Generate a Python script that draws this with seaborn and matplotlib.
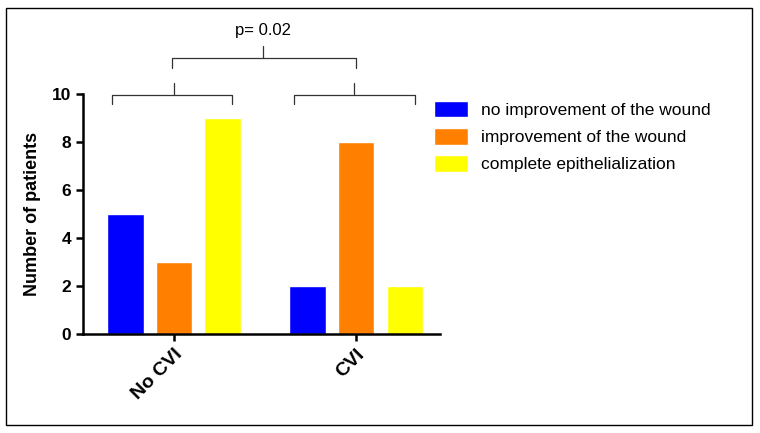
import pandas as pd
import seaborn as sns
import matplotlib.pyplot as plt
from matplotlib.patches import Rectangle

groups = ['No CVI', 'CVI']
outcomes = ['no improvement of the wound', 'improvement of the wound', 'complete epithelialization']
no_improvement = [5, 2]
improvement = [3, 8]
epithelialization = [9, 2]
colors = ['#0000FF', '#FF8000', '#FFFF00']

df = pd.DataFrame({
    'group': groups * 3,
    'outcome': [o for o in outcomes for _ in groups],
    'patients': no_improvement + improvement + epithelialization,
})

sns.set_style('ticks')
plt.rcParams['font.family'] = ['Liberation Sans', 'DejaVu Sans']
plt.rcParams['text.color'] = 'black'
plt.rcParams['axes.labelcolor'] = 'black'
plt.rcParams['xtick.color'] = 'black'
plt.rcParams['ytick.color'] = 'black'

fig = plt.figure(figsize=(7.6, 4.33), dpi=100)
ax = fig.add_axes([83 / 760, 99 / 433, 357 / 760, 240 / 433])

sns.barplot(data=df, x='group', y='patients', hue='outcome', order=groups,
            hue_order=outcomes, palette=colors, width=0.8, gap=0.25,
            saturation=1, ax=ax, legend=True)

ax.set_xlim(-0.5, 1.46)
ax.set_ylim(0, 10)
ax.set_yticks(range(0, 11, 2))
ax.set_xlabel('')
ax.set_ylabel('Number of patients', fontsize=13, fontweight='bold', labelpad=8)
for s in ['top', 'right']:
    ax.spines[s].set_visible(False)
for s in ['left', 'bottom']:
    ax.spines[s].set_linewidth(1.8)
    ax.spines[s].set_color('black')
ax.tick_params(axis='both', width=1.8, length=5, color='black', labelcolor='black')
for lab in ax.get_yticklabels():
    lab.set_fontweight('bold')
    lab.set_fontsize(12.5)
ax.set_xticks(range(len(groups)))
ax.set_xticklabels(groups, rotation=45, ha='right', rotation_mode='anchor',
                   fontsize=14, fontweight='bold')

# brackets above the groups
def bracket(x0, x1, xm, y, drop, rise):
    kw = dict(color='#333333', lw=0.9, clip_on=False)
    ax.plot([x0, x0, x1, x1], [y - drop, y, y, y - drop], **kw)
    ax.plot([xm, xm], [y, y + rise], **kw)

bracket(-0.34, 0.32, 0.0, 9.95, 0.35, 0.5)
bracket(0.66, 1.32, 0.99, 9.95, 0.35, 0.5)
bracket(-0.01, 1.0, 0.49, 11.5, 0.4, 0.5)
ax.text(0.49, 12.35, 'p= 0.02', ha='center', va='bottom', fontsize=12, clip_on=False)

handles, labels = ax.get_legend_handles_labels()
ax.get_legend().remove()
fig.legend(handles, labels, loc='upper left', bbox_to_anchor=(418 / 760, 1 - 85 / 433),
           frameon=False, fontsize=12.5, handlelength=2.0, handleheight=1.1,
           labelspacing=0.58, handletextpad=0.7)

fig.add_artist(Rectangle((6 / 760, 8 / 433), 746 / 760, 417 / 433, transform=fig.transFigure,
                         fill=False, edgecolor='black', lw=1.0))

fig.savefig('out.png', dpi=100)
